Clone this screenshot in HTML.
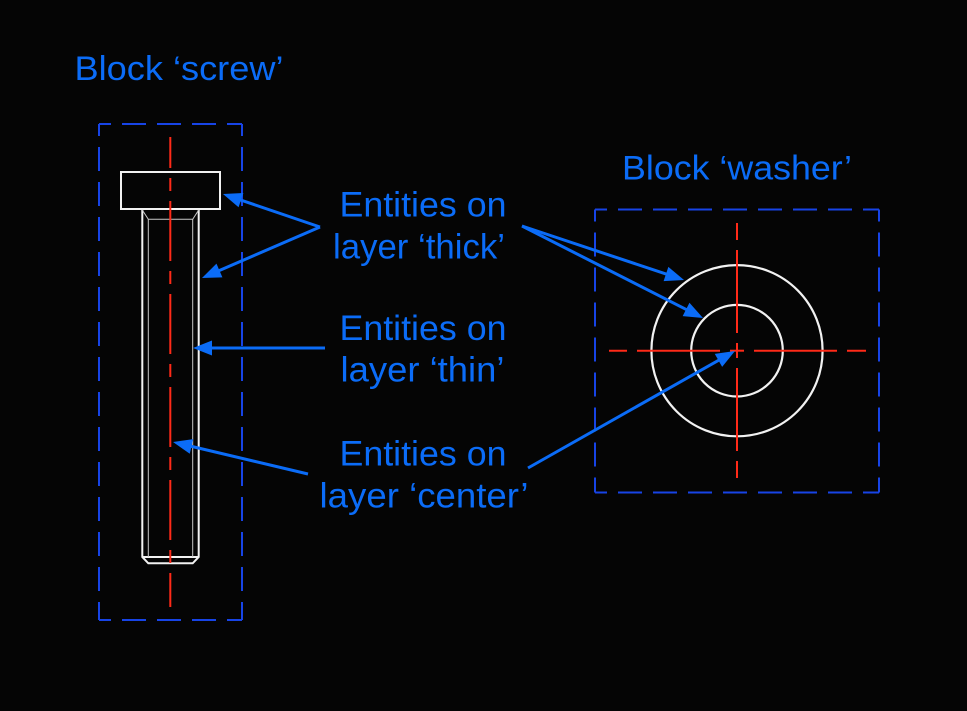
<!DOCTYPE html>
<html>
<head>
<meta charset="utf-8">
<style>
  html, body { margin: 0; padding: 0; background: #050505; }
  svg { display: block; }
  text { font-family: "Liberation Sans", Arial, sans-serif; fill: #0b6cf7; }
</style>
</head>
<body>
<svg width="967" height="711" viewBox="0 0 967 711" xmlns="http://www.w3.org/2000/svg">
  <rect x="0" y="0" width="967" height="711" fill="#050505"/>

  <!-- Blue dashed block boxes -->
  <g stroke="#1744e6" stroke-width="2" fill="none" stroke-dasharray="24 11" stroke-dashoffset="12">
    <line x1="99" y1="124" x2="242" y2="124"/>
    <line x1="99" y1="620" x2="242" y2="620"/>
    <line x1="99" y1="124" x2="99" y2="620"/>
    <line x1="242" y1="124" x2="242" y2="620"/>
    <line x1="595" y1="209.5" x2="879" y2="209.5"/>
    <line x1="595" y1="492.5" x2="879" y2="492.5"/>
    <line x1="595" y1="209.5" x2="595" y2="492.5"/>
    <line x1="879" y1="209.5" x2="879" y2="492.5"/>
  </g>

  <!-- Screw: thick outline -->
  <g stroke="#f2f2f2" stroke-width="2" fill="none">
    <rect x="121" y="172" width="99" height="37"/>
    <path d="M142.3,209 L142.3,557 L148.3,563.3 L192.7,563.3 L198.7,557 L198.7,209"/>
    <line x1="142.3" y1="557" x2="198.7" y2="557"/>
  </g>
  <!-- Screw: thin lines -->
  <g stroke="#c8c8c8" stroke-width="1" fill="none">
    <path d="M142.3,210 L148.3,219.3 L192.7,219.3 L198.7,210"/>
    <line x1="148.3" y1="219.3" x2="148.3" y2="557"/>
    <line x1="192.7" y1="219.3" x2="192.7" y2="557"/>
  </g>
  <!-- Screw: center line -->
  <line x1="170.3" y1="137" x2="170.3" y2="607" stroke="#ff2a18" stroke-width="2" stroke-dasharray="60 10 13 10" stroke-dashoffset="29"/>

  <!-- Washer -->
  <g stroke="#f2f2f2" stroke-width="2.2" fill="none">
    <circle cx="737" cy="350.7" r="85.6"/>
    <circle cx="737" cy="350.7" r="45.8"/>
  </g>
  <g stroke="#ff2a18" stroke-width="2">
    <line x1="609" y1="350.7" x2="627" y2="350.7"/>
    <line x1="637" y1="350.7" x2="720" y2="350.7"/>
    <line x1="730" y1="350.7" x2="744" y2="350.7"/>
    <line x1="754" y1="350.7" x2="837" y2="350.7"/>
    <line x1="847" y1="350.7" x2="866" y2="350.7"/>
    <line x1="737" y1="223" x2="737" y2="240"/>
    <line x1="737" y1="250" x2="737" y2="333"/>
    <line x1="737" y1="343" x2="737" y2="358"/>
    <line x1="737" y1="368" x2="737" y2="451"/>
    <line x1="737" y1="461" x2="737" y2="478"/>
  </g>

  <!-- Arrow shafts -->
  <g stroke="#0b6cf7" stroke-width="3" fill="none">
    <line x1="320" y1="227" x2="234.35" y2="197.86"/>
    <line x1="320" y1="227" x2="213.02" y2="273.24"/>
    <line x1="522" y1="226" x2="672.62" y2="276.21"/>
    <line x1="522" y1="226" x2="692.30" y2="312.56"/>
    <line x1="325" y1="348" x2="205" y2="348"/>
    <line x1="308" y1="474" x2="184.68" y2="444.77"/>
    <line x1="528" y1="468" x2="724.55" y2="356.9"/>
  </g>
  <!-- Arrow heads -->
  <g fill="#0b6cf7" stroke="none">
    <polygon points="223,194 243.39,193.03 238.56,207.22"/>
    <polygon points="202,278 216.46,263.57 222.42,277.35"/>
    <polygon points="684,280 663.61,281.11 668.35,266.89"/>
    <polygon points="703,318 682.66,316.08 689.46,302.70"/>
    <polygon points="193,348 212,340.5 212,355.5"/>
    <polygon points="173,442 193.22,439.09 189.76,453.69"/>
    <polygon points="735,351 722.15,366.88 714.77,353.82"/>
  </g>

  <!-- Labels -->
  <g font-size="34">
    <text x="74.5" y="80" textLength="209" lengthAdjust="spacingAndGlyphs">Block ‘screw’</text>
    <text x="622" y="179.5" textLength="230" lengthAdjust="spacingAndGlyphs">Block ‘washer’</text>
  </g>
  <g font-size="35">
    <text x="339.5" y="216.5" textLength="167" lengthAdjust="spacingAndGlyphs">Entities on</text>
    <text x="333" y="258.3" textLength="172" lengthAdjust="spacingAndGlyphs">layer ‘thick’</text>
    <text x="339.5" y="340" textLength="167" lengthAdjust="spacingAndGlyphs">Entities on</text>
    <text x="340.5" y="381.7" textLength="164" lengthAdjust="spacingAndGlyphs">layer ‘thin’</text>
    <text x="339.5" y="465.7" textLength="167" lengthAdjust="spacingAndGlyphs">Entities on</text>
    <text x="319.5" y="507.3" textLength="209" lengthAdjust="spacingAndGlyphs">layer ‘center’</text>
  </g>
</svg>
</body>
</html>
